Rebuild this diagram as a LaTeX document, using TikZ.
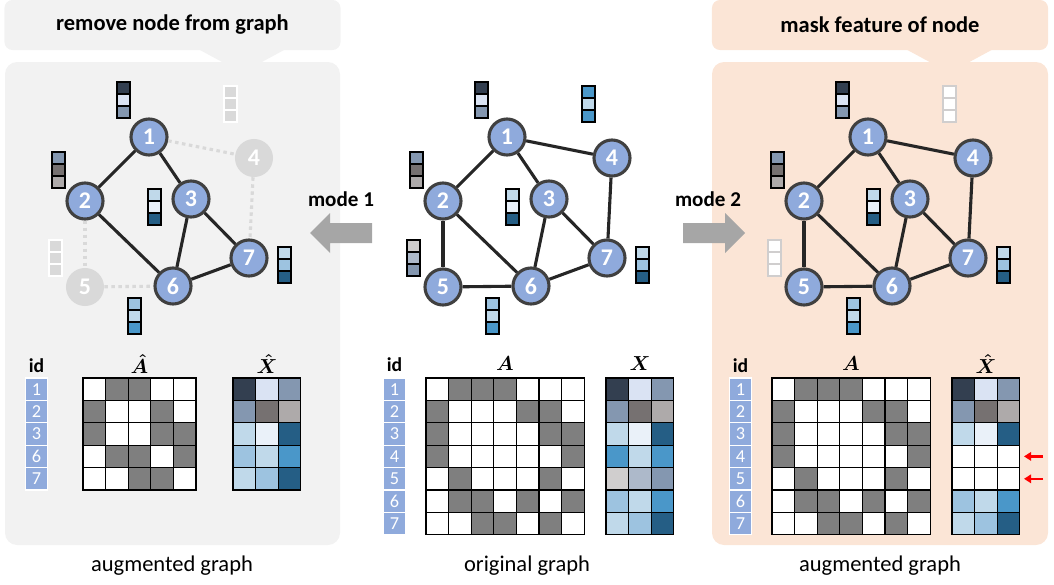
\documentclass[tikz,border=0pt]{standalone}
\usepackage{fontspec}
\setmainfont{Carlito}
\usepackage{amsmath}
\usepackage{tikz}
\usetikzlibrary{calc}
\usetikzlibrary{arrows.meta}

\definecolor{nodeblue}{HTML}{8FAADC}
\definecolor{rimgray}{HTML}{404040}
\definecolor{edgegray}{HTML}{262626}
\definecolor{fadegray}{HTML}{D9D9D9}
\definecolor{panelgray}{HTML}{F2F2F2}
\definecolor{panelrose}{HTML}{FBE5D6}
\definecolor{arrgray}{HTML}{A6A6A6}
\definecolor{am0}{HTML}{FFFFFF}
\definecolor{am1}{HTML}{7F7F7F}
\definecolor{fA}{HTML}{333F50}
\definecolor{fB}{HTML}{DAE3F3}
\definecolor{fC}{HTML}{8497B0}
\definecolor{fD}{HTML}{767171}
\definecolor{fE}{HTML}{AEAAAA}
\definecolor{fF}{HTML}{C0D9EA}
\definecolor{fG}{HTML}{EAF1F9}
\definecolor{fH}{HTML}{255E85}
\definecolor{fI}{HTML}{9DC3E0}
\definecolor{fJ}{HTML}{4A97C9}
\definecolor{fK}{HTML}{D0CECE}
\definecolor{fL}{HTML}{ADB9CA}
\definecolor{fW}{HTML}{FFFFFF}

% feature vector: [border] x, y (top left), three colours
\newcommand{\fv}[6][black]{%
	\foreach \fc [count=\k from 0] in {#4,#5,#6}
		\draw[draw=#1, fill=\fc, line width=0.8pt] (#2,#3+\k*12) rectangle ++(13,12);
}
% cell matrix: x, y (top left), colour prefix, rows
\newcommand{\cellmat}[4]{%
	\foreach \row [count=\i from 0] in {#4}
		\foreach \v [count=\j from 0] in \row
			\draw[fill=#3\v, line width=0.9pt] (#1+\j*22.6,#2+\i*22.4) rectangle ++(22.6,22.4);
}

\tikzset{
	gnode/.style={circle, fill=nodeblue, draw=rimgray, line width=2.2pt, minimum size=0.9cm, inner sep=0pt, text=white, font=\fontsize{17}{17}\selectfont\bfseries},
	fnode/.style={circle, fill=fadegray, minimum size=0.95cm, inner sep=0pt, text=white, font=\fontsize{17}{17}\selectfont\bfseries},
	gedge/.style={edgegray, line width=2.2pt},
	fedge/.style={fadegray, line width=2.2pt, dash pattern=on 2.5pt off 2.5pt},
	hdr/.style={minimum width=8.4cm, minimum height=1.25cm, rounded corners=0.2cm, font=\fontsize{16}{16}\selectfont\bfseries},
	idbox/.style={fill=nodeblue, draw=white, line width=0.8pt, minimum width=0.54cm, minimum height=0.56cm, inner sep=0pt, text=white, font=\fontsize{13}{13}\selectfont},
	lbl/.style={font=\fontsize{14}{14}\selectfont\bfseries},
	caption/.style={font=\fontsize{16}{16}\selectfont},
	redarr/.style={red, line width=1.6pt, -{Triangle[length=5pt,width=6pt]}},
}

\begin{document}
\begin{tikzpicture}[x=0.025cm, y=-0.025cm]
	\useasboundingbox (0,0) rectangle (1054,585);
	% panels and headers
	\fill[panelgray, rounded corners=0.3cm] (5,62) rectangle (340,545);
	\fill[panelrose, rounded corners=0.3cm] (712,62) rectangle (1048,545);
	\node[hdr, fill=panelgray] (hl) at (172.5,25) {remove node from graph};
	\node[hdr, fill=panelrose] (hr) at (880,25) {mask feature of node};
	\fill[panelgray] ($(hl.south)+(27,-0.5)$) -- ++(85,0) -- ++(-42.5,23) -- cycle;
	\fill[panelrose] ($(hr.south)+(27,-0.5)$) -- ++(85,0) -- ++(-42.5,23) -- cycle;

	% mode arrows
	\node[lbl, font=\fontsize{15}{15}\selectfont\bfseries] (m1) at (341,199) {mode 1};
	\node[lbl, font=\fontsize{15}{15}\selectfont\bfseries] (m2) at (708,199) {mode 2};
	\fill[arrgray] (310,233) -- (330,213) -- (330,223) -- (372,223) -- (372,243) -- (330,243) -- (330,253) -- cycle;
	\fill[arrgray] (745,233) -- (725,213) -- (725,223) -- (683,223) -- (683,243) -- (725,243) -- (725,253) -- cycle;

	% original graph
	\foreach \n/\x/\y in {1/507/137,2/443/201,3/549/199,4/612/158,5/443/287,6/531/286,7/607/258}
		\node[gnode] (c\n) at (\x,\y) {\n};
	\foreach \a/\b in {1/2,1/3,1/4,2/5,2/6,3/6,3/7,4/7,5/6,6/7}
		\draw[gedge] (c\a) -- (c\b);
	\fv{475}{82}{fA}{fB}{fC}
	\fv{582}{86}{fJ}{fF}{fJ}
	\fv{410}{152}{fC}{fD}{fE}
	\fv{506}{189}{fF}{fG}{fH}
	\fv{407}{240}{fK}{fL}{fC}
	\fv{486}{298}{fI}{fF}{fJ}
	\fv{636}{247}{fF}{fI}{fH}

	% node removed
	\foreach \n/\s in {1/gnode,2/gnode,3/gnode,4/fnode,5/fnode,6/gnode,7/gnode}
		\node[\s] (l\n) at ($(c\n)+(-358,0)$) {\n};
	\foreach \a/\b in {1/2,1/3,2/6,3/6,3/7,6/7}
		\draw[gedge] (l\a) -- (l\b);
	\foreach \a/\b in {1/4,4/7,2/5,5/6}
		\draw[fedge] (l\a) -- (l\b);
	\begin{scope}[shift={(-358,0)}]
		\fv{475}{82}{fA}{fB}{fC}
		\fv[white]{582}{86}{fadegray}{fadegray}{fadegray}
		\fv{410}{152}{fC}{fD}{fE}
		\fv{506}{189}{fF}{fG}{fH}
		\fv[white]{407}{240}{fadegray}{fadegray}{fadegray}
		\fv{486}{298}{fI}{fF}{fJ}
		\fv{636}{247}{fF}{fI}{fH}
	\end{scope}

	% feature masked
	\foreach \n in {1,...,7}
		\node[gnode] (r\n) at ($(c\n)+(361,0)$) {\n};
	\foreach \a/\b in {1/2,1/3,1/4,2/5,2/6,3/6,3/7,4/7,5/6,6/7}
		\draw[gedge] (r\a) -- (r\b);
	\begin{scope}[shift={(361,0)}]
		\fv{475}{82}{fA}{fB}{fC}
		\fv[fK]{582}{86}{fW}{fW}{fW}
		\fv{410}{152}{fC}{fD}{fE}
		\fv{506}{189}{fF}{fG}{fH}
		\fv[fK]{407}{240}{fW}{fW}{fW}
		\fv{486}{298}{fI}{fF}{fJ}
		\fv{636}{247}{fF}{fI}{fH}
	\end{scope}

	% matrices, left
	\node[lbl] (lidl) at (36.5,366) {id};
	\foreach \t [count=\i from 0] in {1,2,3,6,7}
		\node[idbox] (lid\t) at (36.5,389.2+\i*22.4) {\t};
	\node[lbl] (lAl) at (139.5,364) {$\boldsymbol{\hat{A}}$};
	\node[lbl] (lXl) at (267,364) {$\boldsymbol{\hat{X}}$};
	\cellmat{83}{378}{am}{{0,1,1,0,0},{1,0,0,1,0},{1,0,0,1,1},{0,1,1,0,1},{0,0,1,1,0}}
	\cellmat{233}{378}{f}{{A,B,C},{C,D,E},{F,G,H},{I,F,J},{F,I,H}}

	% matrices, centre
	\node[lbl] (cidl) at (394.5,365) {id};
	\foreach \t [count=\i from 0] in {1,...,7}
		\node[idbox] (cid\t) at (394.5,389.2+\i*22.4) {\t};
	\node[lbl] (cAl) at (505,364) {$\boldsymbol{A}$};
	\node[lbl] (cXl) at (640,364) {$\boldsymbol{X}$};
	\cellmat{426}{378}{am}{{0,1,1,1,0,0,0},{1,0,0,0,1,1,0},{1,0,0,0,0,1,1},{1,0,0,0,0,0,1},{0,1,0,0,0,1,0},{0,1,1,0,1,0,1},{0,0,1,1,0,1,0}}
	\cellmat{606}{378}{f}{{A,B,C},{C,D,E},{F,G,H},{J,F,J},{K,L,C},{I,F,J},{F,I,H}}

	% matrices, right
	\node[lbl] (ridl) at (740.5,366) {id};
	\foreach \t [count=\i from 0] in {1,...,7}
		\node[idbox] (rid\t) at (740.5,389.2+\i*22.4) {\t};
	\node[lbl] (rAl) at (851,364) {$\boldsymbol{A}$};
	\node[lbl] (rXl) at (986,364) {$\boldsymbol{\hat{X}}$};
	\cellmat{772}{378}{am}{{0,1,1,1,0,0,0},{1,0,0,0,1,1,0},{1,0,0,0,0,1,1},{1,0,0,0,0,0,1},{0,1,0,0,0,1,0},{0,1,1,0,1,0,1},{0,0,1,1,0,1,0}}
	\cellmat{952}{378}{f}{{A,B,C},{C,D,E},{F,G,H},{W,W,W},{W,W,W},{I,F,J},{F,I,H}}
	\coordinate (ra4) at (1043,456.4);
	\coordinate (rb4) at (1024,456.4);
	\coordinate (ra5) at (1043,478.8);
	\coordinate (rb5) at (1024,478.8);
	\draw[redarr] (ra4) -- (rb4);
	\draw[redarr] (ra5) -- (rb5);

	% captions
	\node[caption] (capl) at (172,566) {augmented graph};
	\node[caption] (capc) at (527,566) {original graph};
	\node[caption] (capr) at (880,566) {augmented graph};
\end{tikzpicture}
\end{document}
